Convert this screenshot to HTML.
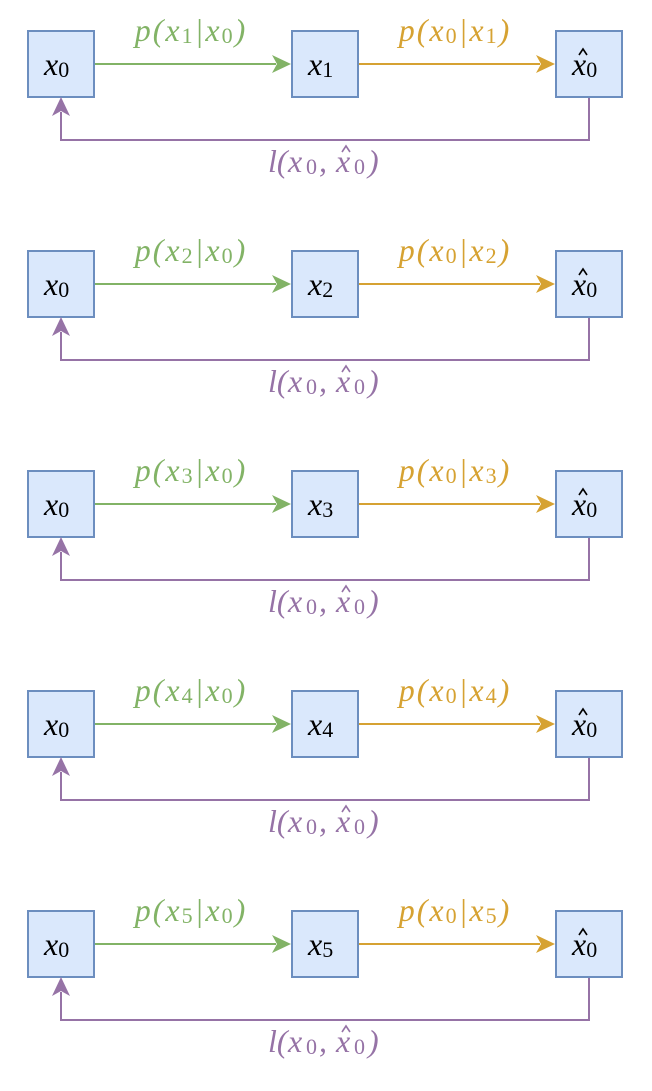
<!DOCTYPE html>
<html><head><meta charset="utf-8"><style>
body{margin:0;background:#fff;}
svg text{font-family:"Liberation Serif",serif;font-style:italic;}
.s{font-style:normal;font-size:22px;}
</style></head><body>
<svg width="652" height="1086" viewBox="0 0 652 1086" xmlns="http://www.w3.org/2000/svg">
<defs>
<g id="row">
<rect x="28" y="31" width="66" height="66" fill="#dae8fc" stroke="#6c8ebf" stroke-width="2"/>
<rect x="292" y="31" width="66" height="66" fill="#dae8fc" stroke="#6c8ebf" stroke-width="2"/>
<rect x="556" y="31" width="66" height="66" fill="#dae8fc" stroke="#6c8ebf" stroke-width="2"/>
<line x1="95" y1="64" x2="276" y2="64" stroke="#82b366" stroke-width="2"/>
<polygon points="291,64 272,55 277,64 272,73" fill="#82b366"/>
<line x1="359" y1="64" x2="540" y2="64" stroke="#d6a232" stroke-width="2"/>
<polygon points="555,64 536,55 541,64 536,73" fill="#d6a232"/>
<polyline points="589,98 589,140 61,140 61,112" fill="none" stroke="#9673a6" stroke-width="2"/>
<polygon points="61,97 52,116 61,111 70,116" fill="#9673a6"/>
<text x="44" y="75" font-size="32" fill="#000">x<tspan class="s" dy="2">0</tspan></text>
<text x="572" y="75" font-size="32" fill="#000">x<tspan class="s" dy="2">0</tspan></text>
<polyline points="579,55 583,49 587,55" fill="none" stroke="#000" stroke-width="1.6"/>
<text y="172" font-size="32" fill="#9673a6"><tspan x="268">l(</tspan><tspan x="288">x</tspan><tspan x="306" class="s" dy="2">0</tspan><tspan x="319" dy="-2">,</tspan><tspan x="336">x</tspan><tspan x="354" class="s" dy="2">0</tspan><tspan x="368" dy="-2">)</tspan></text>
<polyline points="342,152 346,146 350,152" fill="none" stroke="#9673a6" stroke-width="1.6"/>
</g>
</defs>
<g><use href="#row"/>
<text x="308" y="75" font-size="32">x<tspan class="s" dy="2">1</tspan></text>
<text x="191" y="41" text-anchor="middle" font-size="32" letter-spacing="2" fill="#82b366">p(x<tspan class="s" dy="2">1</tspan><tspan dy="-2">|x</tspan><tspan class="s" dy="2">0</tspan><tspan dy="-2">)</tspan></text>
<text x="455" y="41" text-anchor="middle" font-size="32" letter-spacing="2" fill="#d6a232">p(x<tspan class="s" dy="2">0</tspan><tspan dy="-2">|x</tspan><tspan class="s" dy="2">1</tspan><tspan dy="-2">)</tspan></text>
</g>
<g transform="translate(0,220)"><use href="#row"/>
<text x="308" y="75" font-size="32">x<tspan class="s" dy="2">2</tspan></text>
<text x="191" y="41" text-anchor="middle" font-size="32" letter-spacing="2" fill="#82b366">p(x<tspan class="s" dy="2">2</tspan><tspan dy="-2">|x</tspan><tspan class="s" dy="2">0</tspan><tspan dy="-2">)</tspan></text>
<text x="455" y="41" text-anchor="middle" font-size="32" letter-spacing="2" fill="#d6a232">p(x<tspan class="s" dy="2">0</tspan><tspan dy="-2">|x</tspan><tspan class="s" dy="2">2</tspan><tspan dy="-2">)</tspan></text>
</g>
<g transform="translate(0,440)"><use href="#row"/>
<text x="308" y="75" font-size="32">x<tspan class="s" dy="2">3</tspan></text>
<text x="191" y="41" text-anchor="middle" font-size="32" letter-spacing="2" fill="#82b366">p(x<tspan class="s" dy="2">3</tspan><tspan dy="-2">|x</tspan><tspan class="s" dy="2">0</tspan><tspan dy="-2">)</tspan></text>
<text x="455" y="41" text-anchor="middle" font-size="32" letter-spacing="2" fill="#d6a232">p(x<tspan class="s" dy="2">0</tspan><tspan dy="-2">|x</tspan><tspan class="s" dy="2">3</tspan><tspan dy="-2">)</tspan></text>
</g>
<g transform="translate(0,660)"><use href="#row"/>
<text x="308" y="75" font-size="32">x<tspan class="s" dy="2">4</tspan></text>
<text x="191" y="41" text-anchor="middle" font-size="32" letter-spacing="2" fill="#82b366">p(x<tspan class="s" dy="2">4</tspan><tspan dy="-2">|x</tspan><tspan class="s" dy="2">0</tspan><tspan dy="-2">)</tspan></text>
<text x="455" y="41" text-anchor="middle" font-size="32" letter-spacing="2" fill="#d6a232">p(x<tspan class="s" dy="2">0</tspan><tspan dy="-2">|x</tspan><tspan class="s" dy="2">4</tspan><tspan dy="-2">)</tspan></text>
</g>
<g transform="translate(0,880)"><use href="#row"/>
<text x="308" y="75" font-size="32">x<tspan class="s" dy="2">5</tspan></text>
<text x="191" y="41" text-anchor="middle" font-size="32" letter-spacing="2" fill="#82b366">p(x<tspan class="s" dy="2">5</tspan><tspan dy="-2">|x</tspan><tspan class="s" dy="2">0</tspan><tspan dy="-2">)</tspan></text>
<text x="455" y="41" text-anchor="middle" font-size="32" letter-spacing="2" fill="#d6a232">p(x<tspan class="s" dy="2">0</tspan><tspan dy="-2">|x</tspan><tspan class="s" dy="2">5</tspan><tspan dy="-2">)</tspan></text>
</g>
</svg>
</body></html>
